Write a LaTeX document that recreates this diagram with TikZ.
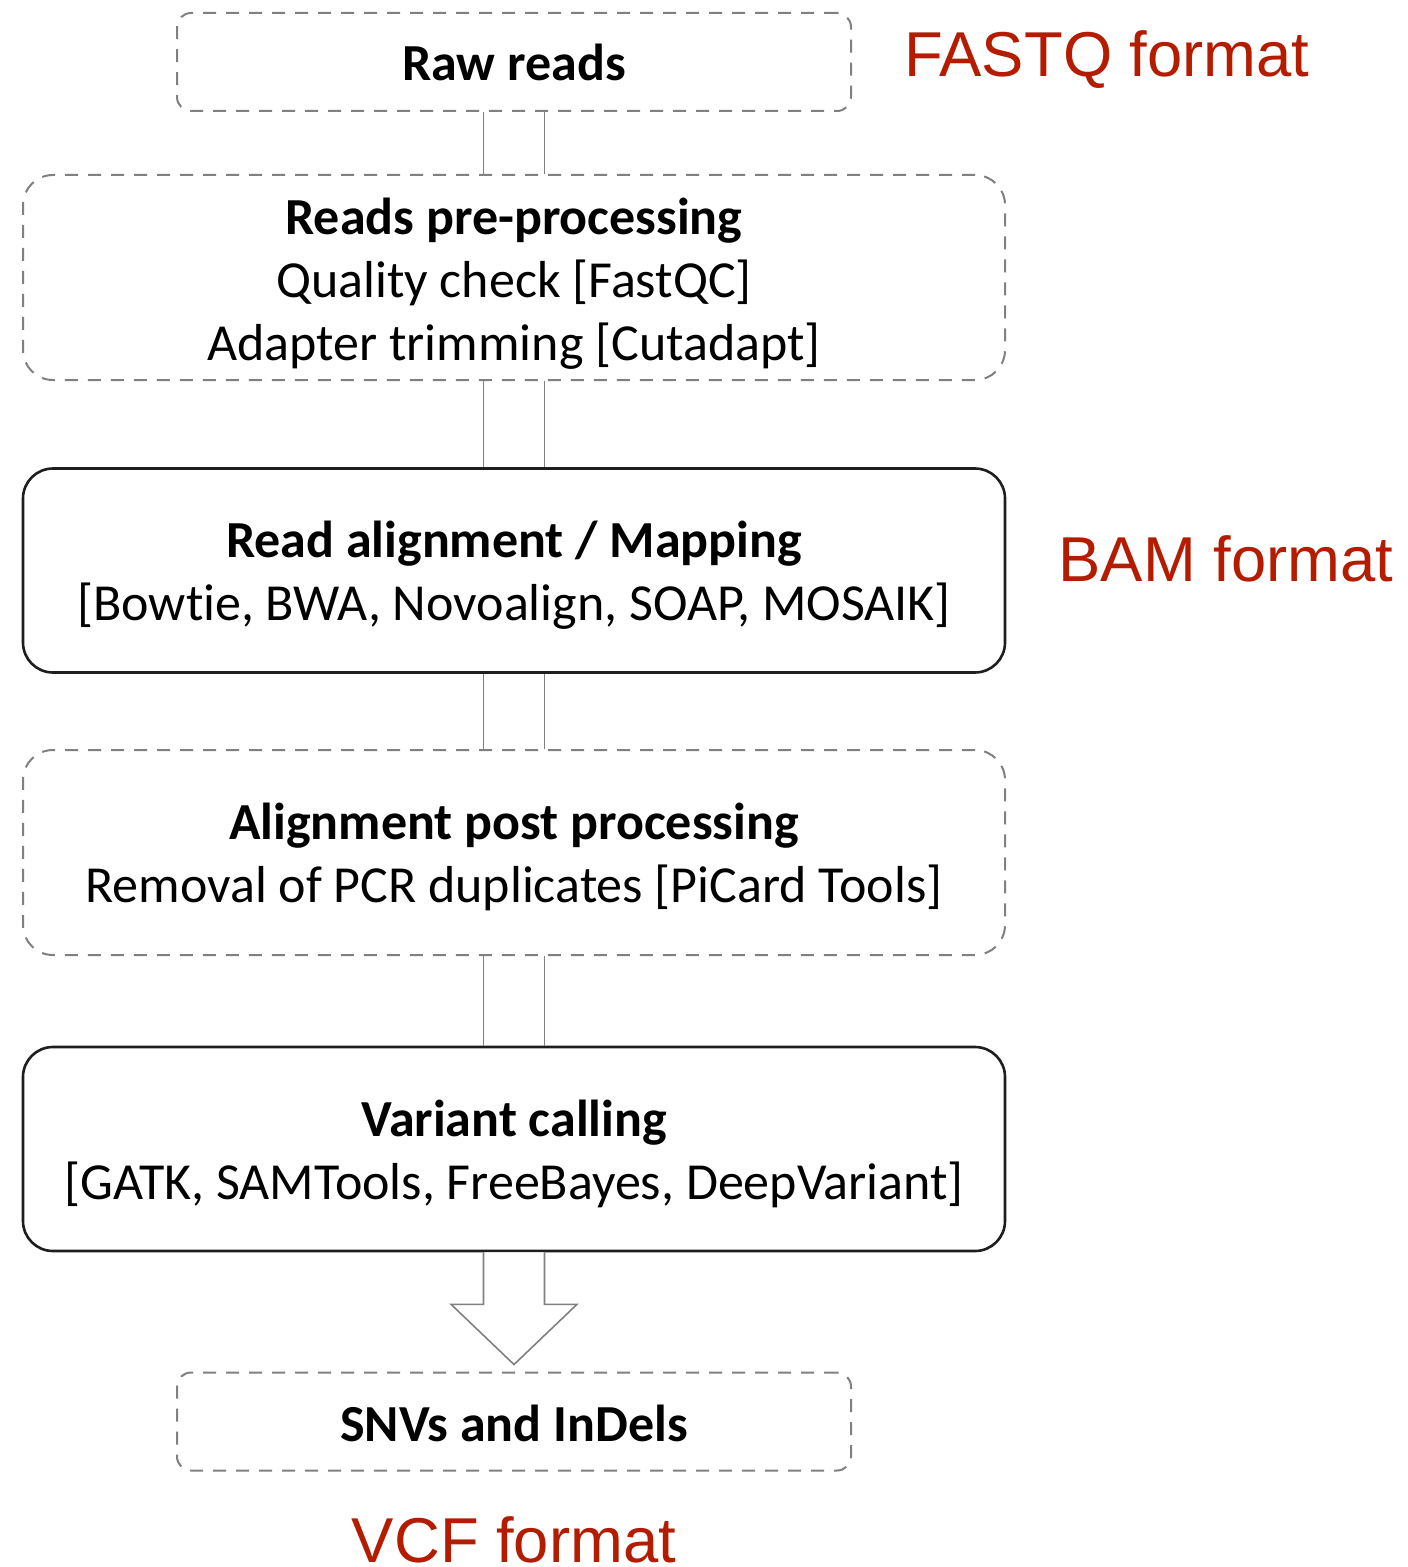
\documentclass[tikz,border=0pt]{standalone}
\usepackage{fontspec}
\setmainfont{Carlito}[Ligatures=NoCommon]
\newfontfamily\labelfont{Liberation Sans}
\definecolor{fmtred}{RGB}{180,28,0}
\definecolor{dashgray}{RGB}{128,128,128}
\definecolor{boxblack}{RGB}{30,30,30}
\tikzset{
  stagetext/.style={align=center, inner sep=0pt,
    font=\fontsize{26}{31.5}\selectfont},
  optbox/.style={rectangle, draw=dashgray, line width=1pt,
    dash pattern=on 6.5pt off 5pt},
  mainbox/.style={rectangle, draw=boxblack, line width=1.3pt,
    minimum width=491pt, minimum height=102pt, rounded corners=15pt},
  widebox/.style={optbox, minimum width=491pt, minimum height=102.5pt,
    rounded corners=15pt},
  endbox/.style={optbox, minimum width=337pt, minimum height=49pt,
    rounded corners=7pt},
  link/.style={draw=dashgray, line width=0.8pt},
  fmt/.style={font=\labelfont\fontsize{31.7}{36}\selectfont, text=fmtred,
    inner sep=0pt, anchor=base}
}
\begin{document}
\begin{tikzpicture}[x=0.5pt, y=-0.5pt]
\useasboundingbox (0,0) rectangle (1407,1567);
\fill[white] (0,0) rectangle (1407,1567);

% processing stages, top to bottom
\node[endbox] (raw) at (514,62) {};
\node[widebox] (pre) at (514,277.5) {};
\node[mainbox] (aln) at (514,570.5) {};
\node[widebox] (post) at (514,852.5) {};
\node[mainbox] (call) at (514,1149) {};
\node[endbox] (snv) at (514,1421.5) {};

% stage captions
\node[stagetext] (rawT) at (raw.center) {\textbf{Raw reads}};
\node[stagetext] (preT) at ([yshift=-3pt]pre.center)
  {\textbf{Reads pre-processing}\\Quality check [FastQC]\\Adapter trimming [Cutadapt]};
\node[stagetext] (alnT) at ([yshift=-2.5pt]aln.center)
  {\textbf{Read alignment / Mapping}\\{}{[Bowtie, BWA, Novoalign, SOAP, MOSAIK]}};
\node[stagetext] (postT) at ([yshift=-2pt]post.center)
  {\textbf{Alignment post processing}\\Removal of PCR duplicates [PiCard Tools]};
\node[stagetext] (callT) at ([yshift=-2.5pt]call.center)
  {\textbf{Variant calling}\\{}{[GATK, SAMTools, FreeBayes, DeepVariant]}};
\node[stagetext] (snvT) at ([yshift=-1pt]snv.center) {\textbf{SNVs and InDels}};

% double-line links between consecutive stages
\foreach \a/\b in {raw/pre, pre/aln, aln/post, post/call}{
  \draw[link] ([xshift=-15.25pt]\a.south) -- ([xshift=-15.25pt]\b.north);
  \draw[link] ([xshift=15.25pt]\a.south) -- ([xshift=15.25pt]\b.north);
}

% hollow block arrow into the result
\coordinate (tip) at ([yshift=3.5pt]snv.north);
\draw[link, fill=white, line join=miter]
  ([xshift=-15.25pt]call.south) -- ++(0,52) -- ++(-32.5,0) -- (tip)
  -- ([shift={(31.5pt,-26pt)}]call.south) -- ([shift={(15.25pt,-26pt)}]call.south)
  -- ([xshift=15.25pt]call.south);

% file formats
\node[fmt] (fq) at (1107,77) {FASTQ format};
\node[fmt] (bam) at (1226,581) {BAM format};
\node[fmt] (vcf) at (514,1562) {VCF format};
\end{tikzpicture}
\end{document}
